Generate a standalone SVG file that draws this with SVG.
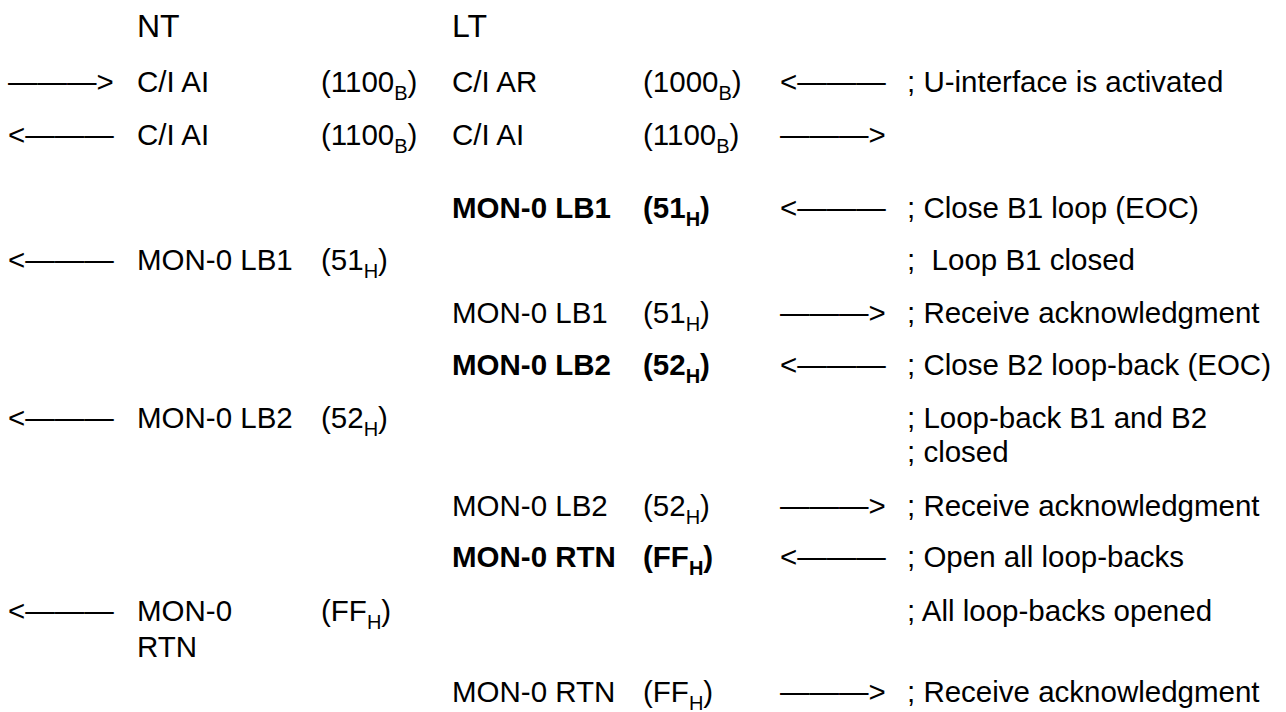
<svg xmlns="http://www.w3.org/2000/svg" width="1286" height="712" viewBox="0 0 1286 712">
<style>
text{font-family:"Liberation Sans",Arial,sans-serif;font-size:29.5px;fill:#000;white-space:pre}
.h{font-size:32px}
.b{font-weight:bold}
.s{font-size:20px}
</style>
<rect width="1286" height="712" fill="#fff"/>
<g id="headers">
<text class="h" x="137" y="37">NT</text>
<text class="h" x="452" y="37">LT</text>
</g>
<g id="connectors">
<text x="8" y="92">———&gt;</text>
<text x="780" y="92">&lt;———</text>
<text x="8" y="145">&lt;———</text>
<text x="780" y="145">———&gt;</text>
<text x="780" y="218">&lt;———</text>
<text x="8" y="270">&lt;———</text>
<text x="780" y="323">———&gt;</text>
<text x="780" y="375">&lt;———</text>
<text x="8" y="428">&lt;———</text>
<text x="780" y="516">———&gt;</text>
<text x="780" y="567">&lt;———</text>
<text x="8" y="621">&lt;———</text>
<text x="780" y="702">———&gt;</text>
</g>
<g id="row1">
<text x="137" y="92">C/I AI</text>
<text x="321" y="92">(1100<tspan class="s" dy="8">B</tspan><tspan dy="-8">)</tspan></text>
<text x="452" y="92">C/I AR</text>
<text x="643" y="92">(1000<tspan class="s" dy="8">B</tspan><tspan dy="-8">)</tspan></text>
<text x="907" y="92">; U-interface is activated</text>
</g>
<g id="row2">
<text x="137" y="145">C/I AI</text>
<text x="321" y="145">(1100<tspan class="s" dy="8">B</tspan><tspan dy="-8">)</tspan></text>
<text x="452" y="145">C/I AI</text>
<text x="643" y="145">(1100<tspan class="s" dy="8">B</tspan><tspan dy="-8">)</tspan></text>
</g>
<g id="row3">
<text class="b" x="452" y="218">MON-0 LB1</text>
<text class="b" x="643" y="218">(51<tspan class="s" dy="8">H</tspan><tspan dy="-8">)</tspan></text>
<text x="907" y="218">; Close B1 loop (EOC)</text>
</g>
<g id="row4">
<text x="137" y="270">MON-0 LB1</text>
<text x="321" y="270">(51<tspan class="s" dy="8">H</tspan><tspan dy="-8">)</tspan></text>
<text x="907" y="270">;  Loop B1 closed</text>
</g>
<g id="row5">
<text x="452" y="323">MON-0 LB1</text>
<text x="643" y="323">(51<tspan class="s" dy="8">H</tspan><tspan dy="-8">)</tspan></text>
<text x="907" y="323">; Receive acknowledgment</text>
</g>
<g id="row6">
<text class="b" x="452" y="375">MON-0 LB2</text>
<text class="b" x="643" y="375">(52<tspan class="s" dy="8">H</tspan><tspan dy="-8">)</tspan></text>
<text x="907" y="375">; Close B2 loop-back (EOC)</text>
</g>
<g id="row7">
<text x="137" y="428">MON-0 LB2</text>
<text x="321" y="428">(52<tspan class="s" dy="8">H</tspan><tspan dy="-8">)</tspan></text>
<text x="907" y="428">; Loop-back B1 and B2</text>
<text x="907" y="462">; closed</text>
</g>
<g id="row8">
<text x="452" y="516">MON-0 LB2</text>
<text x="643" y="516">(52<tspan class="s" dy="8">H</tspan><tspan dy="-8">)</tspan></text>
<text x="907" y="516">; Receive acknowledgment</text>
</g>
<g id="row9">
<text class="b" x="452" y="567">MON-0 RTN</text>
<text class="b" x="643" y="567">(FF<tspan class="s" dy="8">H</tspan><tspan dy="-8">)</tspan></text>
<text x="907" y="567">; Open all loop-backs</text>
</g>
<g id="row10">
<text x="137" y="621">MON-0</text>
<text x="137" y="657">RTN</text>
<text x="321" y="621">(FF<tspan class="s" dy="8">H</tspan><tspan dy="-8">)</tspan></text>
<text x="907" y="621">; All loop-backs opened</text>
</g>
<g id="row11">
<text x="452" y="702">MON-0 RTN</text>
<text x="643" y="702">(FF<tspan class="s" dy="8">H</tspan><tspan dy="-8">)</tspan></text>
<text x="907" y="702">; Receive acknowledgment</text>
</g>
</svg>
